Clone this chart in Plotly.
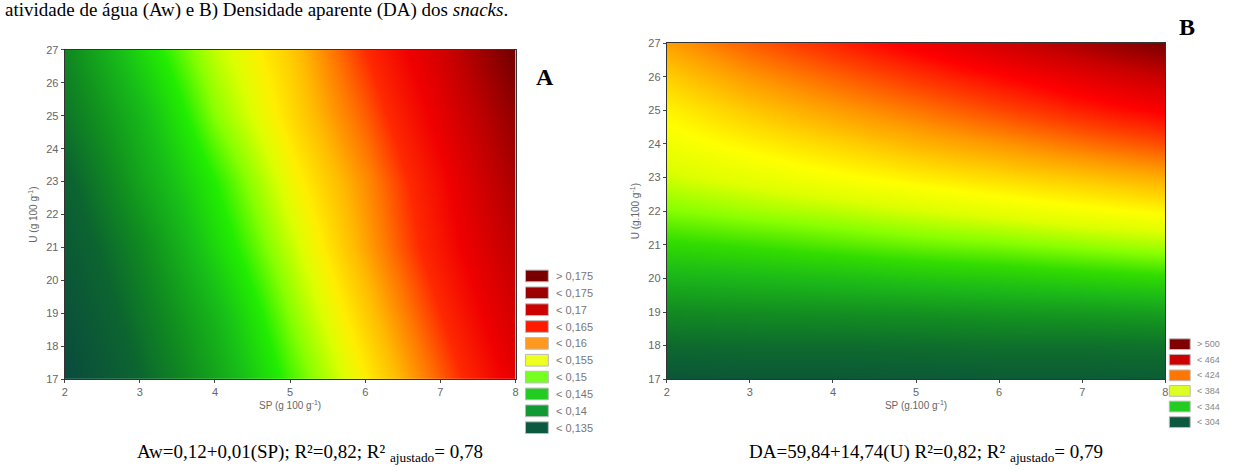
import plotly.graph_objects as go

# ---------------- data ----------------
sp_values = [2, 3, 4, 5, 6, 7, 8]

# Panel A: Aw surface (rows = U values)
u_values_a = [17, 19, 21, 23, 25, 27]
aw_row_17 = [0.127, 0.134, 0.141, 0.149, 0.156, 0.163, 0.170]
aw_row_19 = [0.129, 0.136, 0.143, 0.151, 0.158, 0.165, 0.172]
aw_row_21 = [0.131, 0.138, 0.146, 0.153, 0.160, 0.167, 0.174]
aw_row_23 = [0.133, 0.141, 0.148, 0.155, 0.161, 0.168, 0.176]
aw_row_25 = [0.136, 0.143, 0.151, 0.157, 0.163, 0.170, 0.178]
aw_row_27 = [0.138, 0.146, 0.153, 0.158, 0.165, 0.172, 0.181]
aw_grid = [aw_row_17, aw_row_19, aw_row_21, aw_row_23, aw_row_25, aw_row_27]

# Panel B: DA surface (rows = U values)
u_values_b = [17, 18, 19, 20, 21, 22, 23, 24, 25, 26, 27]
da_grid = [
    [296, 297, 297, 298, 299, 299, 300],
    [306, 307, 307, 308, 309, 309, 310],
    [320, 321, 322, 323, 325, 326, 328],
    [335, 337, 339, 342, 344, 347, 350],
    [350, 353, 357, 361, 364, 368, 372],
    [365, 370, 374, 379, 384, 389, 394],
    [378, 384, 390, 396, 402, 408, 415],
    [387, 395, 403, 412, 420, 429, 438],
    [395, 407, 418, 428, 439, 450, 460],
    [405, 420, 432, 444, 456, 468, 480],
    [418, 434, 448, 462, 476, 490, 505],
]

legend_a_labels = ["> 0,175", "< 0,175", "< 0,17", "< 0,165", "< 0,16",
                   "< 0,155", "< 0,15", "< 0,145", "< 0,14", "< 0,135"]
legend_a_colors = ["#7a0000", "#9c0000", "#cc0000", "#ff1a00", "#ff9922",
                   "#eeff22", "#77ff22", "#22cc22", "#119933", "#0b5a40"]
legend_b_labels = ["> 500", "< 464", "< 424", "< 384", "< 344", "< 304"]
legend_b_colors = ["#800000", "#cc0000", "#ff7700", "#ddff22", "#22cc22", "#0b5a40"]

scale_a_vals = [0.127, 0.134, 0.139, 0.144, 0.148, 0.151, 0.154, 0.156, 0.159,
                0.162, 0.165, 0.169, 0.174, 0.181]
scale_a_cols = ["#0a4a3e", "#0c6530", "#11901f", "#18c018", "#22ee00", "#88ff00",
                "#ddff00", "#ffee00", "#ffbb00", "#ff7700", "#ff2a00", "#f00000",
                "#c00000", "#700000"]
scale_b_vals = [290, 305, 320, 338, 352, 366, 380, 392, 405, 420, 440, 458, 480, 508]
scale_b_cols = ["#0a4a3e", "#0d6630", "#128a22", "#1cbb18", "#33dd00", "#88ff00",
                "#ddff00", "#ffff00", "#ffd000", "#ff9900", "#ff4400", "#ff0000",
                "#c80000", "#700000"]


def make_scale(vals, cols):
    lo, hi = vals[0], vals[-1]
    return [[(v - lo) / (hi - lo), c] for v, c in zip(vals, cols)]


W, H = 1239, 471


def px(x):
    return x / W


def py(y):
    return 1 - y / H


fig = go.Figure()
fig.add_trace(go.Heatmap(x=sp_values, y=u_values_a, z=aw_grid, zsmooth="best",
                         colorscale=make_scale(scale_a_vals, scale_a_cols),
                         zmin=scale_a_vals[0], zmax=scale_a_vals[-1],
                         showscale=False, xaxis="x", yaxis="y"))
fig.add_trace(go.Heatmap(x=sp_values, y=u_values_b, z=da_grid, zsmooth="best",
                         colorscale=make_scale(scale_b_vals, scale_b_cols),
                         zmin=scale_b_vals[0], zmax=scale_b_vals[-1],
                         showscale=False, xaxis="x2", yaxis="y2"))

tickfont = dict(family="Arial", size=11, color="#666666")
axis_common = dict(showgrid=False, zeroline=False, ticks="outside", ticklen=3,
                   tickcolor="#444", showline=True, linecolor="#333", linewidth=1,
                   mirror=True, tickfont=tickfont, dtick=1)
titlefont = dict(family="Arial", size=10, color="#666666")

fig.update_layout(
    width=W, height=H, margin=dict(l=0, r=0, t=0, b=0),
    paper_bgcolor="white", plot_bgcolor="white", showlegend=False,
    xaxis=dict(domain=[px(62), px(515)], range=[2, 8], anchor="y",
               title=dict(text="SP (g 100 g<sup>-1</sup>)", font=titlefont, standoff=4),
               **axis_common),
    yaxis=dict(domain=[py(383), py(45)], range=[17, 27], anchor="x",
               title=dict(text="U (g 100 g<sup>-1</sup>)", font=titlefont, standoff=6),
               **axis_common),
    xaxis2=dict(domain=[px(667), px(1168)], range=[2, 8], anchor="y2",
                title=dict(text="SP (g.100 g<sup>-1</sup>)", font=titlefont, standoff=4),
                **axis_common),
    yaxis2=dict(domain=[py(383), py(38)], range=[17, 27], anchor="x2",
                title=dict(text="U (g.100 g<sup>-1</sup>)", font=titlefont, standoff=6),
                **axis_common),
)

shapes = []
annotations = []

# Legend A
for i, (lab, col) in enumerate(zip(legend_a_labels, legend_a_colors)):
    cy = 277 + i * 17.3
    shapes.append(dict(type="rect", xref="paper", yref="paper",
                       x0=px(525), x1=px(548), y0=py(cy + 6), y1=py(cy - 6),
                       fillcolor=col, line=dict(color="#bbbbbb", width=1)))
    annotations.append(dict(text=lab, xref="paper", yref="paper", x=px(554), y=py(cy),
                            xanchor="left", yanchor="middle", showarrow=False,
                            font=dict(family="Arial", size=11, color="#777777")))
# Legend B
for i, (lab, col) in enumerate(zip(legend_b_labels, legend_b_colors)):
    cy = 347 + i * 16
    shapes.append(dict(type="rect", xref="paper", yref="paper",
                       x0=px(1172), x1=px(1193), y0=py(cy + 5.5), y1=py(cy - 5.5),
                       fillcolor=col, line=dict(color="#bbbbbb", width=1)))
    annotations.append(dict(text=lab, xref="paper", yref="paper", x=px(1198), y=py(cy),
                            xanchor="left", yanchor="middle", showarrow=False,
                            font=dict(family="Arial", size=9, color="#888888")))

serif = "Liberation Serif"
annotations += [
    dict(text="<b>A</b>", xref="paper", yref="paper", x=px(545), y=py(73),
         xanchor="center", yanchor="middle", showarrow=False,
         font=dict(family=serif, size=24, color="black")),
    dict(text="<b>B</b>", xref="paper", yref="paper", x=px(1190), y=py(22),
         xanchor="center", yanchor="middle", showarrow=False,
         font=dict(family=serif, size=24, color="black")),
    dict(text="atividade de água (Aw) e B) Densidade aparente (DA) dos <i>snacks</i>.",
         xref="paper", yref="paper", x=0, y=py(4), xanchor="left", yanchor="middle",
         showarrow=False, font=dict(family=serif, size=19, color="black")),
    dict(text="Aw=0,12+0,01(SP); R²=0,82; R² <sub>ajustado</sub>= 0,78",
         xref="paper", yref="paper", x=px(308), y=py(459), xanchor="center",
         yanchor="middle", showarrow=False, font=dict(family=serif, size=19, color="black")),
    dict(text="DA=59,84+14,74(U) R²=0,82; R² <sub>ajustado</sub>= 0,79",
         xref="paper", yref="paper", x=px(927), y=py(459), xanchor="center",
         yanchor="middle", showarrow=False, font=dict(family=serif, size=19, color="black")),
]

fig.update_layout(shapes=shapes, annotations=annotations)
fig.write_html("out.html", config={"displayModeBar": False},
               post_script="document.body.style.margin='0';")
